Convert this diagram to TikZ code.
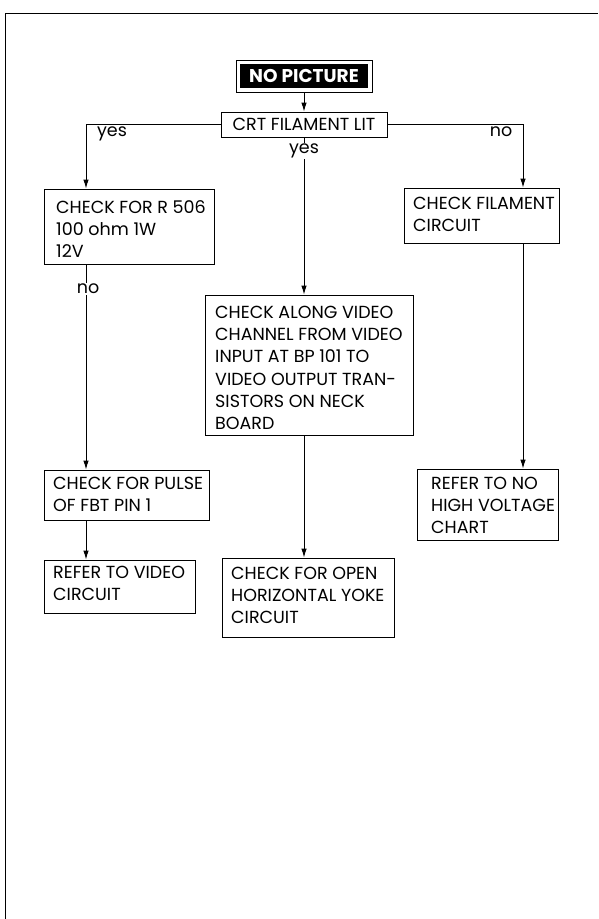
\documentclass[tikz,border=0pt]{standalone}
\usepackage{fontspec}
\setmainfont{Poppins}
\usetikzlibrary{arrows.meta,calc}
\newcommand\boxfont{\fontsize{17.5}{22.2}\selectfont}
\tikzset{
  box/.style={draw, line width=0.9pt, rectangle, inner sep=0pt},
  txt/.style={font=\boxfont, align=left, inner sep=0pt, anchor=north west},
  lbl/.style={font=\boxfont, inner sep=1pt},
  arr/.style={-{Latex[length=9pt,width=5.5pt]}, line width=0.9pt},
  conn/.style={line width=0.9pt}
}
\begin{document}
\begin{tikzpicture}[x=1pt,y=-1pt]
\useasboundingbox (0,0) rectangle (598,919);
% frame
\draw[line width=1pt] (5,919) -- (5,13) -- (598,13);
% guide coordinates
\coordinate (xl) at (86,0);
\coordinate (xm) at (304,0);
\coordinate (xr) at (523,0);
% NO PICTURE
\node[box, minimum width=136pt, minimum height=32pt] (npo) at (304,76) {};
\node[fill=black, minimum width=128pt, minimum height=24pt, inner sep=0pt, text=white, font=\bfseries\fontsize{18.5}{20}\selectfont] (np) at (304,76) {NO PICTURE};
% CRT
\node[box, minimum width=166pt, minimum height=25pt, font=\boxfont] (crt) at (304,124.5) {CRT FILAMENT LIT};
% boxes
\node[box, minimum width=170pt, minimum height=75pt] (r506) at (129,226.5) {};
\node[box, minimum width=155pt, minimum height=55pt] (fil) at (481.5,215.5) {};
\node[box, minimum width=208pt, minimum height=140pt] (along) at (309,365) {};
\node[box, minimum width=165pt, minimum height=50pt] (pulse) at (126.5,495) {};
\node[box, minimum width=151pt, minimum height=53pt] (refvid) at (119.5,586.5) {};
\node[box, minimum width=172pt, minimum height=79pt] (yoke) at (308,597.5) {};
\node[box, minimum width=141pt, minimum height=71pt] (refhv) at (487.5,504.5) {};
% texts
\node[txt] (t1) at (56,200) {CHECK FOR R 506\\100 ohm 1W\\12V};
\node[txt] (t2) at (413,197) {CHECK FILAMENT\\CIRCUIT};
\node[txt] (t3) at (215,306) {CHECK ALONG VIDEO\\CHANNEL FROM VIDEO\\INPUT AT BP 101 TO\\VIDEO OUTPUT TRAN-\\SISTORS ON NECK\\BOARD};
\node[txt] (t4) at (53,477) {CHECK FOR PULSE\\OF FBT PIN 1};
\node[txt] (t5) at (53,566) {REFER TO VIDEO\\CIRCUIT};
\node[txt] (t6) at (231,567) {CHECK FOR OPEN\\HORIZONTAL YOKE\\CIRCUIT};
\node[txt] (t7) at (431,477) {REFER TO NO\\HIGH VOLTAGE\\CHART};
% connectors
\draw[arr] (npo.south) -- (crt.north);
\draw[arr] (crt.west) -| (xl |- r506.north);
\draw[arr] (crt.east) -| (xr |- fil.north);
\draw[arr] (crt.south) -- (xm |- along.north);
\draw[arr] (xl |- r506.south) -- (xl |- pulse.north);
\draw[arr] (xl |- pulse.south) -- (xl |- refvid.north);
\draw[arr] (xm |- along.south) -- (xm |- yoke.north);
\draw[arr] (xr |- fil.south) -- (xr |- refhv.north);
% labels
\node[lbl] (yesl) at (112,134) {yes};
\node[lbl, fill=white] (yesm) at (304,151) {yes};
\node[lbl] (nor) at (501,132) {no};
\node[lbl, fill=white] (nol) at (88,289) {no};
\end{tikzpicture}
\end{document}
